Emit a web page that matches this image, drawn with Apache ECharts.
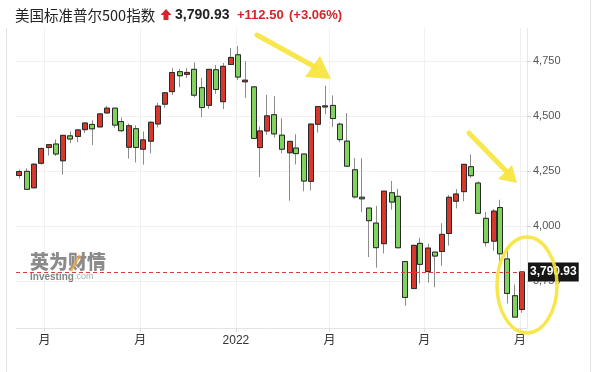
<!DOCTYPE html>
<html><head><meta charset="utf-8">
<script src="https://cdn.jsdelivr.net/npm/echarts@6/dist/echarts.min.js"></script>
<style>html,body{margin:0;padding:0;background:#fff}#c{width:600px;height:372px}</style>
</head><body><div id="c"></div>
<script>
// ---- data (weekly candles) ----
const dates = ['2021-06-07','2021-06-14','2021-06-21','2021-06-28','2021-07-05','2021-07-12','2021-07-19','2021-07-26',
'2021-08-02','2021-08-09','2021-08-16','2021-08-23','2021-08-30','2021-09-07','2021-09-13','2021-09-20','2021-09-27',
'2021-10-04','2021-10-11','2021-10-18','2021-10-25','2021-11-01','2021-11-08','2021-11-15','2021-11-22','2021-11-29',
'2021-12-06','2021-12-13','2021-12-20','2021-12-27','2022-01-03','2022-01-10','2022-01-18','2022-01-24','2022-01-31',
'2022-02-07','2022-02-14','2022-02-22','2022-02-28','2022-03-07','2022-03-14','2022-03-21','2022-03-28','2022-04-04',
'2022-04-11','2022-04-18','2022-04-25','2022-05-02','2022-05-09','2022-05-16','2022-05-23','2022-05-31','2022-06-06',
'2022-06-13','2022-06-21','2022-06-27','2022-07-05','2022-07-11','2022-07-18','2022-07-25','2022-08-01','2022-08-08',
'2022-08-15','2022-08-22','2022-08-29','2022-09-06','2022-09-12','2022-09-19','2022-09-26','2022-10-03'];
const opens = [4229.34,4248.31,4173.40,4284.90,4356.46,4372.41,4296.40,4409.58,4406.86,4437.77,4461.65,4450.29,4513.76,4535.38,
4474.81,4358.00,4442.12,4348.84,4385.44,4463.72,4553.69,4610.62,4701.48,4689.30,4712.00,4628.75,4548.37,4710.30,4565.00,4733.99,
4778.14,4655.34,4632.24,4356.32,4431.79,4505.75,4412.61,4332.74,4354.17,4327.01,4202.75,4462.40,4541.09,4547.97,4462.64,
4385.63,4255.34,4130.61,4081.27,4013.02,3919.42,4151.09,4134.72,3838.15,3715.31,3920.76,3792.61,3880.94,3883.79,3965.72,
4112.38,4155.93,4269.37,4195.08,4034.58,3930.89,4083.67,3849.91,3682.72,3620.00];
const highs = [4255.84,4261.66,4286.12,4355.78,4372.51,4393.68,4415.18,4429.97,4440.82,4468.73,4480.26,4513.33,4545.85,4535.38,
4492.99,4465.40,4457.30,4429.97,4475.82,4559.67,4608.08,4718.50,4714.92,4717.75,4743.83,4672.95,4713.57,4731.99,4740.74,4808.93,
4818.62,4748.83,4632.24,4453.23,4595.31,4590.03,4489.55,4385.34,4416.78,4327.01,4465.40,4546.03,4637.30,4593.45,4471.00,
4512.94,4308.45,4307.66,4081.27,4090.72,4158.49,4204.77,4168.78,3838.15,3913.65,3945.86,3918.50,3880.94,4012.44,4140.15,
4167.66,4280.47,4325.28,4203.04,4062.99,4076.81,4119.28,3907.07,3733.83,3791.92];
const lows = [4216.00,4164.40,4173.40,4278.52,4320.00,4318.00,4233.13,4376.00,4381.00,4422.00,4367.73,4450.29,4511.00,4447.00,
4427.76,4305.91,4288.52,4278.94,4329.92,4447.47,4537.36,4595.06,4630.86,4672.78,4585.43,4495.12,4532.86,4600.22,4531.10,4733.99,
4662.74,4582.24,4395.34,4222.62,4414.02,4401.41,4329.51,4114.65,4279.68,4157.87,4161.72,4424.30,4507.57,4450.04,4381.34,
4267.62,4124.28,4062.51,3858.87,3810.32,3875.13,4073.85,3900.16,3636.87,3715.31,3738.67,3742.06,3721.56,3818.63,3910.74,
4079.81,4112.09,4218.70,4057.66,3906.21,3886.75,3837.08,3647.47,3584.13,3604.93];
const closes = [4247.44,4166.45,4280.70,4352.34,4369.55,4327.16,4411.79,4395.26,4436.52,4468.00,4441.67,4509.37,4535.43,4458.58,
4432.99,4455.48,4357.04,4391.34,4471.37,4544.90,4605.38,4697.53,4682.85,4697.96,4594.62,4538.43,4712.02,4620.64,4725.79,4766.18,
4677.03,4662.85,4397.94,4431.85,4500.53,4418.64,4348.87,4384.65,4328.87,4204.31,4463.12,4543.06,4545.86,4488.28,4392.59,
4271.78,4131.93,4123.34,4023.89,3901.36,4158.24,4108.54,3900.86,3674.84,3911.74,3825.33,3899.38,3863.16,3961.63,4130.29,
4145.19,4280.15,4228.48,4057.66,3924.26,4067.36,3873.33,3693.23,3585.62,3790.93];
const yTicks = [3750, 4000, 4250, 4500, 4750];
const xTickDates = ['2021-07-01','2021-10-01','2022-01-01','2022-04-01','2022-07-01','2022-10-01'];
const xTickLabels = ['月','月','2022','月','月','月'];
const titleText = '美国标准普尔500指数';
const lastPrice = 3790.93;
const lastPriceText = '3,790.93';
const changeText = '+112.50';
const changePctText = '(+3.06%)';

// ---- build ----
const toTs = s => { const p = s.split('-').map(Number); return Date.UTC(p[0], p[1]-1, p[2]); };
const xTickTs = xTickDates.map(toTs);
const full = dates.map((d,i) => [toTs(d), opens[i], closes[i], lows[i], highs[i]]);
const bodies = dates.map((d,i) => [toTs(d), opens[i], closes[i], Math.min(opens[i],closes[i]), Math.max(opens[i],closes[i])]);
const fmtNum = v => String(v).replace(/\B(?=(\d{3})+(?!\d))/g, ',');

const UP = '#d8382b', DOWN = '#7fd35e';
const YEL = 'rgba(246,228,58,0.9)';
const numFont = '"Liberation Sans", Arial, sans-serif';

const chart = echarts.init(document.getElementById('c'), null, {renderer: 'canvas'});
chart.setOption({
  animation: false,
  backgroundColor: '#fff',
  grid: {left: 16, right: 73, top: 28, bottom: 44},
  xAxis: {
    type: 'value',
    min: Date.UTC(2021, 5, 3, 15, 20),
    max: Date.UTC(2022, 9, 7, 19, 0),
    axisLine: {show: true, lineStyle: {color: '#e4e4e4'}},
    axisTick: {show: true, length: 4, lineStyle: {color: '#dcdcdc'}, customValues: xTickTs},
    axisLabel: {
      customValues: xTickTs, color: '#333', fontSize: 12, margin: 7,
      fontFamily: '"Liberation Sans", "Noto Sans CJK SC", sans-serif',
      formatter: v => { const i = xTickTs.indexOf(v); return i >= 0 ? xTickLabels[i] : ''; }
    },
    splitLine: {show: true, lineStyle: {color: '#f1f1f1'}}
  },
  yAxis: {
    type: 'value', position: 'right', scale: true,
    min: 3536, max: 4900,
    axisLine: {show: true, lineStyle: {color: '#e8e8e8'}},
    axisTick: {show: true, length: 4, lineStyle: {color: '#cfcfcf'}, customValues: yTicks},
    axisLabel: {customValues: yTicks, color: '#555', fontSize: 11, margin: 6, fontFamily: numFont, formatter: v => fmtNum(v)},
    splitLine: {show: true, lineStyle: {color: '#f0f0f0'}}
  },
  series: [
    {
      type: 'candlestick', name: 'wick', data: full, barWidth: 5.5,
      itemStyle: {color: UP, color0: DOWN, borderColor: '#8c8c8c', borderColor0: '#8c8c8c', borderColorDoji: '#8c8c8c', borderWidth: 1},
      markLine: {
        silent: true, symbol: ['none', 'none'],
        lineStyle: {color: '#d9403a', type: [4, 3], width: 1},
        label: {show: true, position: 'end', distance: 1, formatter: lastPriceText, color: '#fff',
                backgroundColor: '#161616', padding: [4, 2, 3, 2], fontSize: 12, fontWeight: 'bold', fontFamily: numFont},
        data: [{yAxis: lastPrice}]
      }
    },
    {
      type: 'candlestick', name: 'body', data: bodies, barWidth: 5.5, silent: true,
      itemStyle: {color: UP, color0: DOWN, borderColor: '#2a2a2a', borderColor0: '#2a2a2a', borderColorDoji: '#2a2a2a', borderWidth: 1}
    }
  ],
  graphic: [
    {type: 'line', shape: {x1: 6.5, y1: 28, x2: 6.5, y2: 372}, style: {stroke: '#e2e2e2', lineWidth: 1}, silent: true},
    {type: 'line', shape: {x1: 590.5, y1: 0, x2: 590.5, y2: 372}, style: {stroke: '#e2e2e2', lineWidth: 1}, silent: true},
    {type: 'text', x: 15, y: 15, style: {text: titleText, fill: '#222', font: '14.5px "Noto Sans CJK SC", sans-serif', verticalAlign: 'middle'}},
    {type: 'polygon', shape: {points: [[166,9],[171.5,15],[168.5,15],[168.5,20],[163.5,20],[163.5,15],[160.5,15]]}, style: {fill: '#d4252a'}},
    {type: 'text', x: 175, y: 15, style: {text: lastPriceText, fill: '#222', font: 'bold 14px ' + numFont, verticalAlign: 'middle'}},
    {type: 'text', x: 237, y: 15, style: {text: changeText, fill: '#d4252a', font: 'bold 13px ' + numFont, verticalAlign: 'middle'}},
    {type: 'text', x: 289, y: 15, style: {text: changePctText, fill: '#d4252a', font: 'bold 13px ' + numFont, verticalAlign: 'middle'}},
    // watermark
    {type: 'text', x: 30, y: 262, z: 1, style: {text: '英为财情', fill: 'rgba(100,100,100,0.75)', font: '900 19px "Noto Sans CJK SC", sans-serif', verticalAlign: 'middle'}},
    {type: 'line', z: 2, shape: {x1: 71, y1: 271, x2: 80, y2: 255}, style: {stroke: 'rgba(242,168,60,0.7)', lineWidth: 3}},
    {type: 'text', x: 30, y: 277, z: 1, style: {text: 'Investing', fill: 'rgba(100,100,100,0.8)', font: 'bold 10px ' + numFont, verticalAlign: 'middle'}},
    {type: 'text', x: 74, y: 277, z: 1, style: {text: '.com', fill: 'rgba(150,150,150,0.8)', font: '9px ' + numFont, verticalAlign: 'middle'}},
    // yellow annotations
    {type: 'line', z: 100, shape: {x1: 257, y1: 35, x2: 315, y2: 67}, style: {stroke: YEL, lineWidth: 5, lineCap: 'round'}},
    {type: 'polygon', z: 100, shape: {points: [[305,77],[331,79],[320,56]]}, style: {fill: YEL}},
    {type: 'line', z: 100, shape: {x1: 469, y1: 133, x2: 506, y2: 171}, style: {stroke: YEL, lineWidth: 5, lineCap: 'round'}},
    {type: 'polygon', z: 100, shape: {points: [[498,179],[517,183],[512,165]]}, style: {fill: YEL}},
    {type: 'ellipse', z: 100, shape: {cx: 527, cy: 285, rx: 30, ry: 48}, style: {fill: 'none', stroke: YEL, lineWidth: 3.5}}
  ]
});
</script></body></html>
